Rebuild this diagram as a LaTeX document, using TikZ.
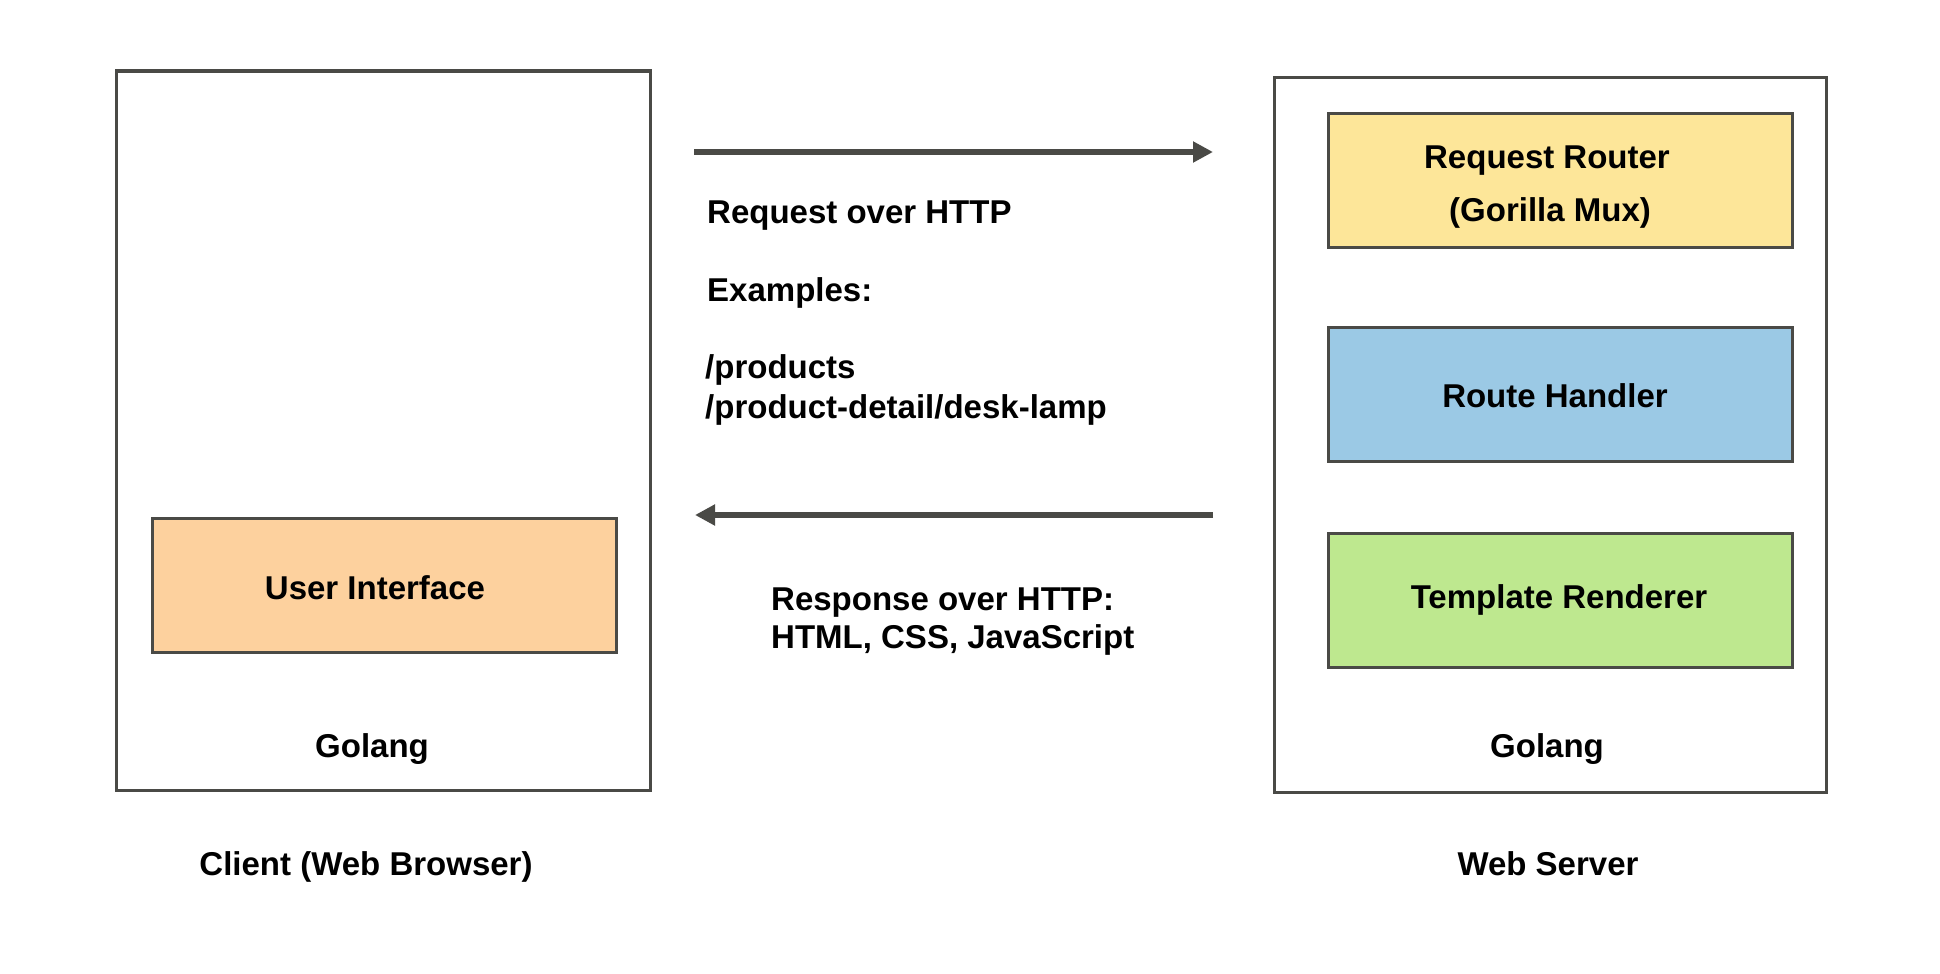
\documentclass[tikz,border=0pt]{standalone}
\usepackage{fontspec}
\setmainfont{Liberation Sans}
\usetikzlibrary{arrows.meta}
\definecolor{edge}{HTML}{4A4A46}
\definecolor{uifill}{HTML}{FDD19E}
\definecolor{routerfill}{HTML}{FDE699}
\definecolor{handlerfill}{HTML}{9BC9E5}
\definecolor{rendererfill}{HTML}{BEE88F}
\begin{document}
\begin{tikzpicture}[x=1pt,y=-1pt,
  frame/.style={draw=edge,line width=3pt,anchor=north west,inner sep=0pt,outer sep=0pt},
  comp/.style={frame,minimum width=464pt,minimum height=134pt},
  lbl/.style={font=\bfseries\fontsize{33}{40}\selectfont,inner sep=0pt,anchor=base},
  lbll/.style={lbl,anchor=base west},
  flow/.style={draw=edge,line width=6pt,-{Triangle[length=20pt,width=20pt]}}]
\useasboundingbox (0,0) rectangle (1940,974);
% containers
\node[frame,minimum width=534pt,minimum height=719pt] (client) at (116,71) {};
\node[frame,minimum width=552pt,minimum height=715pt] (server) at (1274,77) {};
% components
\node[comp,fill=uifill] (ui) at (152,518) {};
\node[comp,fill=routerfill] (router) at (1328,113) {};
\node[comp,fill=handlerfill] (handler) at (1328,327) {};
\node[comp,fill=rendererfill] (renderer) at (1328,533) {};
% component labels
\node[lbl] (uit) at (375,599) {User Interface};
\node[lbl] (routert1) at (1547,168) {Request Router};
\node[lbl] (routert2) at (1550,221) {(Gorilla Mux)};
\node[lbl] (handlert) at (1555,407) {Route Handler};
\node[lbl] (renderert) at (1559,608) {Template Renderer};
\node[lbl] (golangc) at (372,757) {Golang};
\node[lbl] (golangs) at (1547,757) {Golang};
\node[lbl] (clientt) at (366,875) {Client (Web Browser)};
\node[lbl] (servert) at (1548,875) {Web Server};
% arrows
\coordinate (reqs) at (694,152);
\coordinate (reqe) at (1213,152);
\coordinate (ress) at (1213,515);
\coordinate (rese) at (695,515);
\draw[flow] (reqs) -- (reqe);
\draw[flow] (ress) -- (rese);
% middle texts
\node[lbll] (req1) at (707,223) {Request over HTTP};
\node[lbll] (req2) at (707,301) {Examples:};
\node[lbll] (req3) at (705,378) {/products};
\node[lbll] (req4) at (705,418) {/product-detail/desk-lamp};
\node[lbll] (res1) at (771,610) {Response over HTTP:};
\node[lbll] (res2) at (771,648) {HTML, CSS, JavaScript};
\end{tikzpicture}
\end{document}
